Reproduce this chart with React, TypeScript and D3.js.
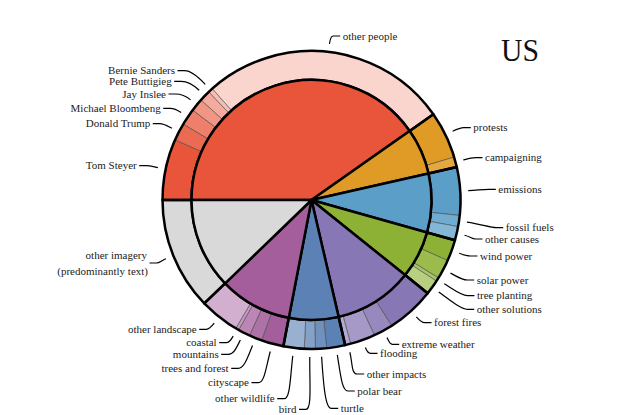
import React from 'react';
import * as d3 from 'd3';

// inner ring: topic groups, outer ring: sub-topics (shares in % of images)
const groupNames = ['people', 'protests', 'causes', 'solutions', 'impacts', 'animals', 'landscape', 'other imagery'];
const groupColors = ['#e8553a', '#e09b26', '#5b9fc9', '#8db134', '#8877b5', '#5b81b5', '#a45e9c', '#d9d9d9'];

const peopleLabels = ['Tom Steyer', 'Donald Trump', 'Michael Bloombeng', 'Jay Inslee', 'Pete Buttigieg', 'Bernie Sanders', 'other people'];
const peopleShares = [6.6, 1.9, 1.8, 1.4, 1.2, 0.5, 26.8];

const protestLabels = ['protests', 'campaigning'];
const protestShares = [5.1, 1.1];

const causeLabels = ['emissions', 'fossil fuels', 'other causes'];
const causeShares = [5.2, 1.2, 1.5];

const solutionLabels = ['wind power', 'solar power', 'tree planting', 'other solutions'];
const solutionShares = [2.3, 2.1, 0.4, 1.6];

const impactLabels = ['forest fires', 'extreme weather', 'flooding', 'other impacts'];
const impactShares = [5.2, 2.1, 2.7, 0.6];

const animalLabels = ['polar bear', 'turtle', 'bird', 'other wildlife'];
const animalShares = [2.0, 1.2, 1.2, 2.25];

const landscapeLabels = ['cityscape', 'trees and forest', 'mountains', 'coastal', 'other landscape'];
const landscapeShares = [2.4, 1.4, 1.3, 0.35, 4.3];

const imageryLabels = ['other imagery'];
const imageryShares = [12.2];

const title = 'US';

const groupLeaves: [string[], number[]][] = [
  [peopleLabels, peopleShares],
  [protestLabels, protestShares],
  [causeLabels, causeShares],
  [solutionLabels, solutionShares],
  [impactLabels, impactShares],
  [animalLabels, animalShares],
  [landscapeLabels, landscapeShares],
  [imageryLabels, imageryShares]
];

// where each label text sits (x, y centre, anchor)
const labelLayout: Record<string, [number, number, string]> = {
  'Bernie Sanders': [175, 70.7, 'end'],
  'Pete Buttigieg': [171.7, 81.3, 'end'],
  'Jay Inslee': [166, 94, 'end'],
  'Michael Bloombeng': [160.7, 108.3, 'end'],
  'Donald Trump': [150.3, 123.7, 'end'],
  'Tom Steyer': [136.7, 165.7, 'end'],
  'other people': [342.7, 36, 'start'],
  'protests': [473.3, 127.7, 'start'],
  'campaigning': [485, 157.7, 'start'],
  'emissions': [498.3, 189.3, 'start'],
  'fossil fuels': [505.7, 227.7, 'start'],
  'other causes': [485, 239, 'start'],
  'wind power': [480, 256, 'start'],
  'solar power': [476.7, 280, 'start'],
  'tree planting': [477, 295.7, 'start'],
  'other solutions': [476.7, 309.3, 'start'],
  'forest fires': [434, 322.7, 'start'],
  'extreme weather': [401.7, 344.3, 'start'],
  'flooding': [380, 353.3, 'start'],
  'other impacts': [366.7, 374, 'start'],
  'polar bear': [357.3, 391, 'start'],
  'turtle': [340.7, 408.3, 'start'],
  'bird': [296.5, 409.3, 'end'],
  'other wildlife': [274.7, 398.7, 'end'],
  'cityscape': [249, 382.7, 'end'],
  'trees and forest': [228.7, 368.3, 'end'],
  'mountains': [218.7, 354.3, 'end'],
  'coastal': [216.7, 342.7, 'end'],
  'other landscape': [196.7, 329.3, 'end'],
  'other imagery': [147, 263, 'end']
};

const W = 623, H = 415;
const cx = 311.5, cy = 200;
const rInner = 120, rOuter = 149, rLead = 157;
const font = "'Liberation Serif', 'DejaVu Serif', serif";

const polar = (a: number, r: number) => [cx + r * Math.sin(a), cy - r * Math.cos(a)];

export default function App() {
  const totals = groupLeaves.map(g => d3.sum(g[1]));

  const pie = d3
    .pie<number>()
    .sort(null)
    .value(d => d)
    .startAngle(-Math.PI / 2)
    .endAngle(1.5 * Math.PI);

  const innerArcs = pie(totals);

  const leaves = groupLeaves.flatMap((g, gi) =>
    g[0].map((label, i) => ({
      label,
      value: g[1][i],
      color: d3.interpolateRgb(groupColors[gi], '#ffffff')(i * 0.125)
    }))
  );
  const leafArcs = pie(leaves.map(l => l.value));

  const innerArc = d3.arc<any>().innerRadius(0).outerRadius(rInner);
  const ringArc = d3.arc<any>().innerRadius(rInner).outerRadius(rOuter);

  const leader = (a: number, tx: number, ty: number, anchor: string) => {
    const dir = anchor === 'start' ? 1 : -1;
    const [x0, y0] = polar(a, rLead);
    const ex = tx - dir * 2.5;
    const mx = ex - dir * 7;
    const d = Math.hypot(mx - x0, ty - y0);
    const ux = Math.sin(a), uy = -Math.cos(a);
    const c1x = x0 + ux * d * 0.5, c1y = y0 + uy * d * 0.5;
    const k = Math.min(6, d * 0.3);
    const path = d3.path();
    path.moveTo(x0, y0);
    path.bezierCurveTo(c1x, c1y, mx - dir * k, ty, mx, ty);
    path.lineTo(ex, ty);
    return path.toString();
  };

  return (
    <div style={{ position: 'fixed', left: 0, top: 0 }}>
      <svg width={W} height={H} style={{ display: 'block', background: '#fff' }}>
        <g transform={`translate(${cx},${cy})`}>
          {leafArcs.map((a, i) => (
            <path key={'l' + i} d={ringArc(a) || ''} fill={leaves[i].color} stroke="#4a4a4a" strokeWidth={0.6} />
          ))}
          {innerArcs.map((a, i) => (
            <path key={'g' + i} d={ringArc(a) || ''} fill="none" stroke="#000" strokeWidth={2.5} strokeLinejoin="round" />
          ))}
          {innerArcs.map((a, i) => (
            <path
              key={'i' + i}
              d={innerArc(a) || ''}
              fill={groupColors[i]}
              stroke="#000"
              strokeWidth={2.5}
              strokeLinejoin="round"
            />
          ))}
        </g>

        {leafArcs.map((a, i) => {
          const lab = leaves[i].label;
          const pos = labelLayout[lab];
          if (!pos) return null;
          const mid = (a.startAngle + a.endAngle) / 2;
          return (
            <path key={'p' + i} d={leader(mid, pos[0], pos[1], pos[2])} fill="none" stroke="#000" strokeWidth={1.2} />
          );
        })}

        <g fontFamily={font} fontSize={11} fill="#222">
          {leaves.map((l, i) => {
            const pos = labelLayout[l.label];
            if (!pos) return null;
            if (l.label === 'other imagery') {
              return (
                <text key={'t' + i} x={pos[0]} textAnchor="end">
                  <tspan x={pos[0]} y={255} dy="0.32em">other imagery</tspan>
                  <tspan x={pos[0] + 1} y={271.5} dy="0.32em">(predominantly text)</tspan>
                </text>
              );
            }
            return (
              <text key={'t' + i} x={pos[0]} y={pos[1]} dy="0.32em" textAnchor={pos[2]}>
                {l.label}
              </text>
            );
          })}
        </g>

        <text x={501} y={60.5} fontFamily={font} fontSize={32} fill="#111" textLength={38} lengthAdjust="spacingAndGlyphs">
          {title}
        </text>
      </svg>
    </div>
  );
}
